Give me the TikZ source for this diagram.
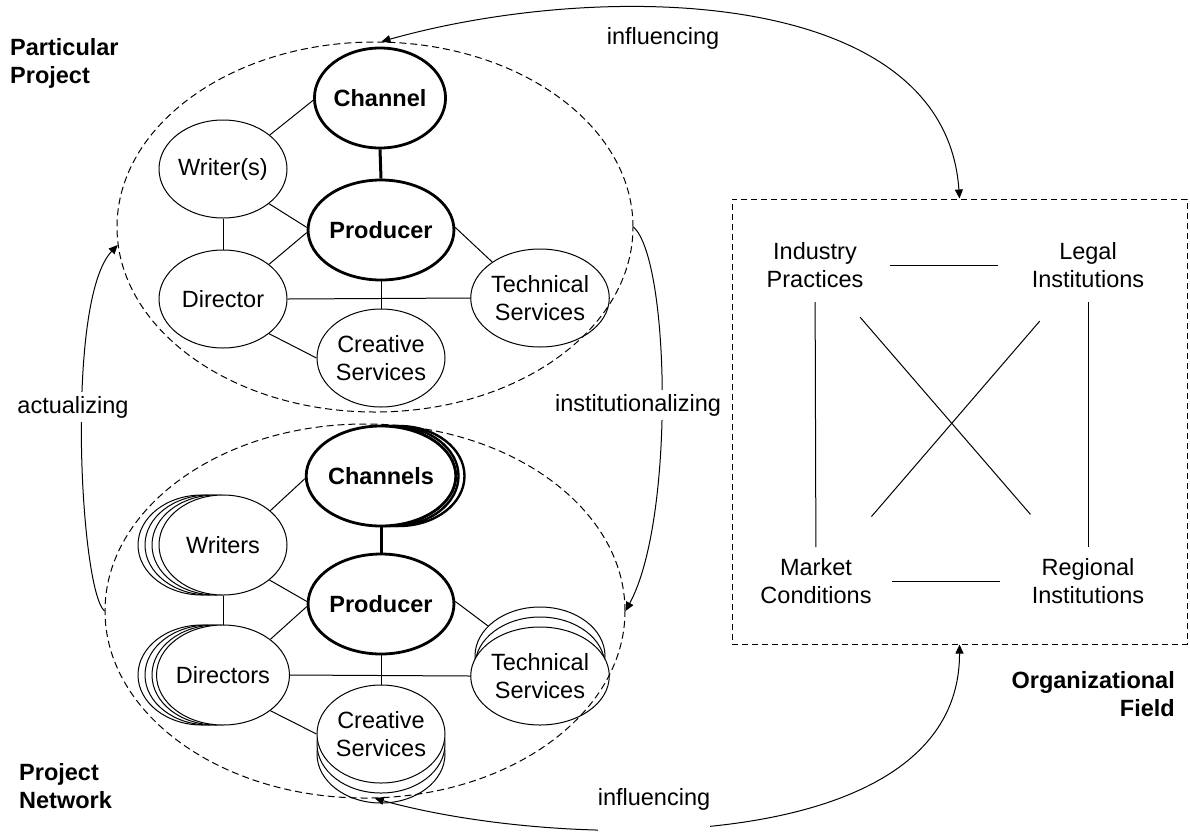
\documentclass[tikz,border=0pt]{standalone}
\usepackage{fontspec}
\setmainfont{Liberation Sans}
\usetikzlibrary{shapes.geometric,arrows.meta,backgrounds}
\newcommand\dgfont{\fontsize{23.5}{28}\selectfont}
\begin{document}
\begin{tikzpicture}[x=1pt,y=-1pt,
  every node/.style={font=\dgfont},
  actor/.style={ellipse, draw, line width=1pt, fill=white, inner sep=0pt,
    minimum width=128pt, minimum height=98pt, align=center},
  keyactor/.style={actor, line width=2.8pt, minimum width=131pt, minimum height=100pt,
    font=\dgfont\bfseries},
  region/.style={ellipse, draw, line width=1pt, dash pattern=on 7pt off 4pt, inner sep=0pt},
  fieldbox/.style={draw, line width=1pt, dash pattern=on 6pt off 4pt, inner sep=0pt,
    minimum width=455pt, minimum height=445pt},
  link/.style={line width=1pt},
  keylink/.style={line width=3pt},
  flow/.style={line width=1pt},
  flowtext/.style={fill=white, inner xsep=2pt, inner ysep=4pt},
  heading/.style={font=\dgfont\bfseries, align=left, inner sep=0pt},
  fieldtext/.style={align=center, inner sep=0pt},
  >={Triangle[length=9pt,width=8pt]}
]
\useasboundingbox (0,0) rectangle (1190,833);

% ---------- particular project ----------
\node[keyactor] (ch1) at (380,98) {Channel};
\node[keyactor] (p1) at (381,230) {Producer};
\node[actor] (w1) at (223,169) {Writer(s)};
\node[actor] (d1) at (223,299) {Director};
\node[actor, minimum width=130pt] (t1) at (540,298) {Technical\\Services};
\node[actor] (c1) at (381,358) {Creative\\Services};

% ---------- project network ----------
\node[keyactor, line width=2.4pt] (ch2s3) at (399,476) {};
\node[keyactor, line width=2.4pt] (ch2s2) at (393,476) {};
\node[keyactor, line width=2.4pt] (ch2s1) at (387,476) {};
\node[keyactor] (ch2) at (381,476) {Channels};
\node[keyactor] (p2) at (381,604) {Producer};

\node[actor, minimum height=100pt] (w2s3) at (202,545) {};
\node[actor, minimum height=100pt] (w2s2) at (209,545) {};
\node[actor, minimum height=100pt] (w2s1) at (216,545) {};
\node[actor, minimum height=100pt] (w2) at (223,545) {Writers};

\node[actor, minimum height=100pt] (d2s3) at (202,675) {};
\node[actor, minimum height=100pt] (d2s2) at (209,675) {};
\node[actor, minimum height=100pt] (d2s1) at (216,675) {};
\node[actor, minimum height=100pt] (d2) at (223,675) {Directors};

\node[actor, minimum width=130pt] (t2s2) at (540,656) {};
\node[actor, minimum width=130pt] (t2s1) at (540,666) {};
\node[actor, minimum width=130pt] (t2) at (540,676) {Technical\\Services};

\node[actor] (c2s2) at (381,754) {};
\node[actor] (c2s1) at (381,744) {};
\node[actor] (c2) at (381,734) {Creative\\Services};

% ---------- connectors between actors ----------
\begin{scope}[on background layer]
  \draw[keylink] (ch1.south) -- (p1.north);
  \draw[link] (w1.36) -- (ch1.182);
  \draw[link] (w1.-37) -- (p1.178);
  \draw[link] (w1.south) -- (d1.north);
  \draw[link] (d1.37) -- (p1.182);
  \draw[link] (p1.2) -- (t1.143);
  \draw[link] (d1.east) -- (t1.west);
  \draw[link] (p1.south) -- (c1.north);
  \draw[link] (d1.-37) -- (c1.180);

  \draw[keylink] (ch2.south) -- (p2.north);
  \draw[link] (w2.36) -- (ch2.182);
  \draw[link] (w2.-37) -- (p2.178);
  \draw[link] (w2.south) -- (d2.north);
  \draw[link] (d2.37) -- (p2.182);
  \draw[link] (p2.2) -- (t2s2.150);
  \draw[link] (d2.east) -- (t2.west);
  \draw[link] (p2.south) -- (c2.north);
  \draw[link] (d2.-37) -- (c2.180);
\end{scope}

% ---------- dashed regions ----------
\node[region, minimum width=516pt, minimum height=370pt] (pp) at (375,227) {};
\node[region, minimum width=520pt, minimum height=374pt] (pn) at (365,611) {};

\node[heading, anchor=west] (pplabel) at (10,63) {Particular\\Project};
\node[heading, anchor=west] (pnlabel) at (19,786) {Project\\Network};

% ---------- organizational field ----------
\node[fieldbox] (field) at (959.5,421.5) {};
\node[fieldtext] (ind) at (815,265) {Industry\\Practices};
\node[fieldtext] (leg) at (1088,265) {Legal\\Institutions};
\node[fieldtext] (mkt) at (816,581) {Market\\Conditions};
\node[fieldtext] (reg) at (1088,581) {Regional\\Institutions};
\node[heading, align=right, anchor=east] (oflabel) at (1175,694) {Organizational\\Field};

\draw[link, shorten <=75pt, shorten >=90pt] (ind.center) -- (leg.center);
\draw[link, shorten <=76pt, shorten >=88pt] (mkt.center) -- (reg.center);
\draw[link, shorten <=37pt, shorten >=34pt] (ind.center) -- (mkt.center);
\draw[link, shorten <=37pt, shorten >=34pt] (leg.center) -- (reg.center);
\draw[link, shorten <=69pt, shorten >=88pt] (ind.center) -- (reg.center);
\draw[link, shorten <=74pt, shorten >=85pt] (leg.center) -- (mkt.center);

% ---------- flows ----------
\draw[flow, <->] (pp.88) .. controls (600,-20) and (945,-15) .. (field.north);
\node[inner sep=0pt] (inftop) at (663,38) {influencing};

\draw[flow, <->] (pn.-87) .. controls (560,850) and (960,860) .. (field.south);
\node[fill=white, inner xsep=0pt, inner ysep=0pt, text depth=40pt, anchor=base] (infbot) at (654,805) {influencing};

\draw[flow, ->] (pp.east) .. controls (670,260) and (675,520) .. (pn.east);
\node[flowtext] (inst) at (638,405) {institutionalizing};

\draw[flow, ->] (pn.west) .. controls (80,590) and (65,300) .. (pp.184);
\node[flowtext] (act) at (73,407) {actualizing};
\end{tikzpicture}
\end{document}
